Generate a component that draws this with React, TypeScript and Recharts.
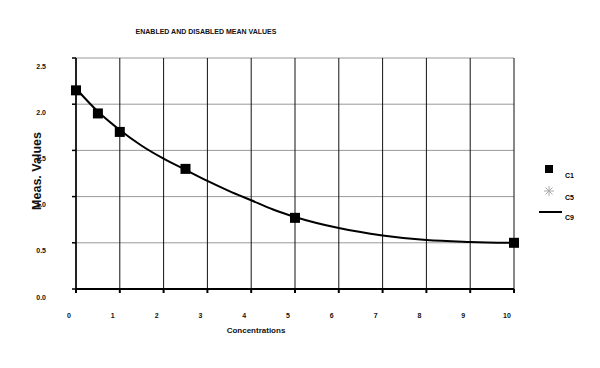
import {
  CartesianGrid,
  ComposedChart,
  Legend,
  Line,
  Scatter,
  XAxis,
  YAxis,
} from "recharts";

const xTicks = [0, 1, 2, 3, 4, 5, 6, 7, 8, 9, 10];
const yTicks = [0, 0.5, 1, 1.5, 2, 2.5];

// C1 measured points
const c1X = [0, 0.5, 1, 2.5, 5, 10];
const c1Y = [2.15, 1.9, 1.7, 1.3, 0.77, 0.5];

// C9 fitted curve
const c9X = [0, 0.5, 1, 1.5, 2, 2.5, 3, 3.5, 4, 4.5, 5, 6, 7, 8, 9, 10];
const c9Y = [2.17, 1.92, 1.72, 1.55, 1.41, 1.29, 1.17, 1.06, 0.96, 0.86, 0.78, 0.66, 0.58, 0.53, 0.51, 0.5];

const c1Data = c1X.map((x, i) => ({ x, y: c1Y[i] }));
const c9Data = c9X.map((x, i) => ({ x, y: c9Y[i] }));

const FONT = "'Liberation Sans', Arial, sans-serif";

function SquareDot(props: any) {
  const { cx, cy } = props;
  return <rect x={cx - 5} y={cy - 5} width={10} height={10} fill="#000" />;
}

function XTick(props: any) {
  const { x, y, payload } = props;
  return (
    <text x={x - 7} y={y + 20} textAnchor="middle" dominantBaseline="central" fontSize={7} fontWeight="bold" fontFamily={FONT} fill="#111">
      {payload.value}
    </text>
  );
}

function YTick(props: any) {
  const { y, payload } = props;
  return (
    <text x={46} y={y + 8} textAnchor="end" dominantBaseline="central" fontSize={7} fontWeight="bold" fontFamily={FONT} fill="#111">
      {payload.value.toFixed(1)}
    </text>
  );
}

function LegendBox() {
  return (
    <svg width={60} height={75} style={{ display: "block" }}>
      <rect x={10} y={7} width={8} height={8} fill="#000" />
      <text x={30} y={20} fontSize={7} fontWeight="bold" fontFamily={FONT}>C1</text>
      <g stroke="#aaa" strokeWidth={1}>
        <line x1={9} y1={33} x2={19} y2={33} />
        <line x1={14} y1={28} x2={14} y2={38} />
        <line x1={10.5} y1={29.5} x2={17.5} y2={36.5} />
        <line x1={17.5} y1={29.5} x2={10.5} y2={36.5} />
      </g>
      <text x={30} y={42} fontSize={7} fontWeight="bold" fontFamily={FONT}>C5</text>
      <line x1={4} y1={54} x2={27} y2={54} stroke="#000" strokeWidth={2} />
      <text x={30} y={62} fontSize={7} fontWeight="bold" fontFamily={FONT}>C9</text>
    </svg>
  );
}

export default function App() {
  return (
    <div style={{ position: "absolute", left: 0, top: 0, width: 600, height: 368, background: "#fff" }}>
      <div
        style={{
          position: "absolute",
          left: 0,
          width: 412,
          top: 28,
          textAlign: "center",
          fontFamily: FONT,
          fontSize: 7,
          fontWeight: "bold",
          color: "#111",
        }}
      >
        ENABLED AND DISABLED MEAN VALUES
      </div>
      <ComposedChart width={600} height={368} margin={{ top: 58, right: 86, bottom: 49, left: 36 }}>
        <CartesianGrid horizontal={true} vertical={false} stroke="#999" strokeWidth={1} />
        <CartesianGrid horizontal={false} vertical={true} stroke="#111" strokeWidth={1} />
        <XAxis
          type="number"
          dataKey="x"
          domain={[0, 10]}
          ticks={xTicks}
          height={30}
          stroke="#000"
          strokeWidth={2}
          tickSize={4}
          tick={<XTick />}
          label={() => (
            <text x={256} y={330} textAnchor="middle" dominantBaseline="central" fontSize={8} fontWeight="bold" fontFamily={FONT} fill="#111">
              Concentrations
            </text>
          )}
        />
        <YAxis
          type="number"
          dataKey="y"
          domain={[0, 2.5]}
          ticks={yTicks}
          width={40}
          stroke="#000"
          strokeWidth={1.5}
          tickSize={4}
          tick={<YTick />}
          label={() => (
            <text
              x={37}
              y={171}
              transform="rotate(-90, 37, 171)"
              textAnchor="middle"
              dominantBaseline="central"
              fontSize={12.5}
              fontWeight="bold"
              fontFamily={FONT}
              fill="#111"
            >
              Meas. Values
            </text>
          )}
        />
        <Legend
          layout="vertical"
          align="center"
          verticalAlign="middle"
          wrapperStyle={{ position: "absolute", left: 535, top: 158, width: 60 }}
          content={() => <LegendBox />}
        />
        <Line
          data={c9Data}
          dataKey="y"
          type="monotone"
          stroke="#000"
          strokeWidth={2}
          dot={false}
          activeDot={false}
          name="C9"
          isAnimationActive={false}
        />
        <Scatter data={c1Data} dataKey="y" fill="#000" shape={<SquareDot />} name="C1" isAnimationActive={false} />
      </ComposedChart>
    </div>
  );
}
